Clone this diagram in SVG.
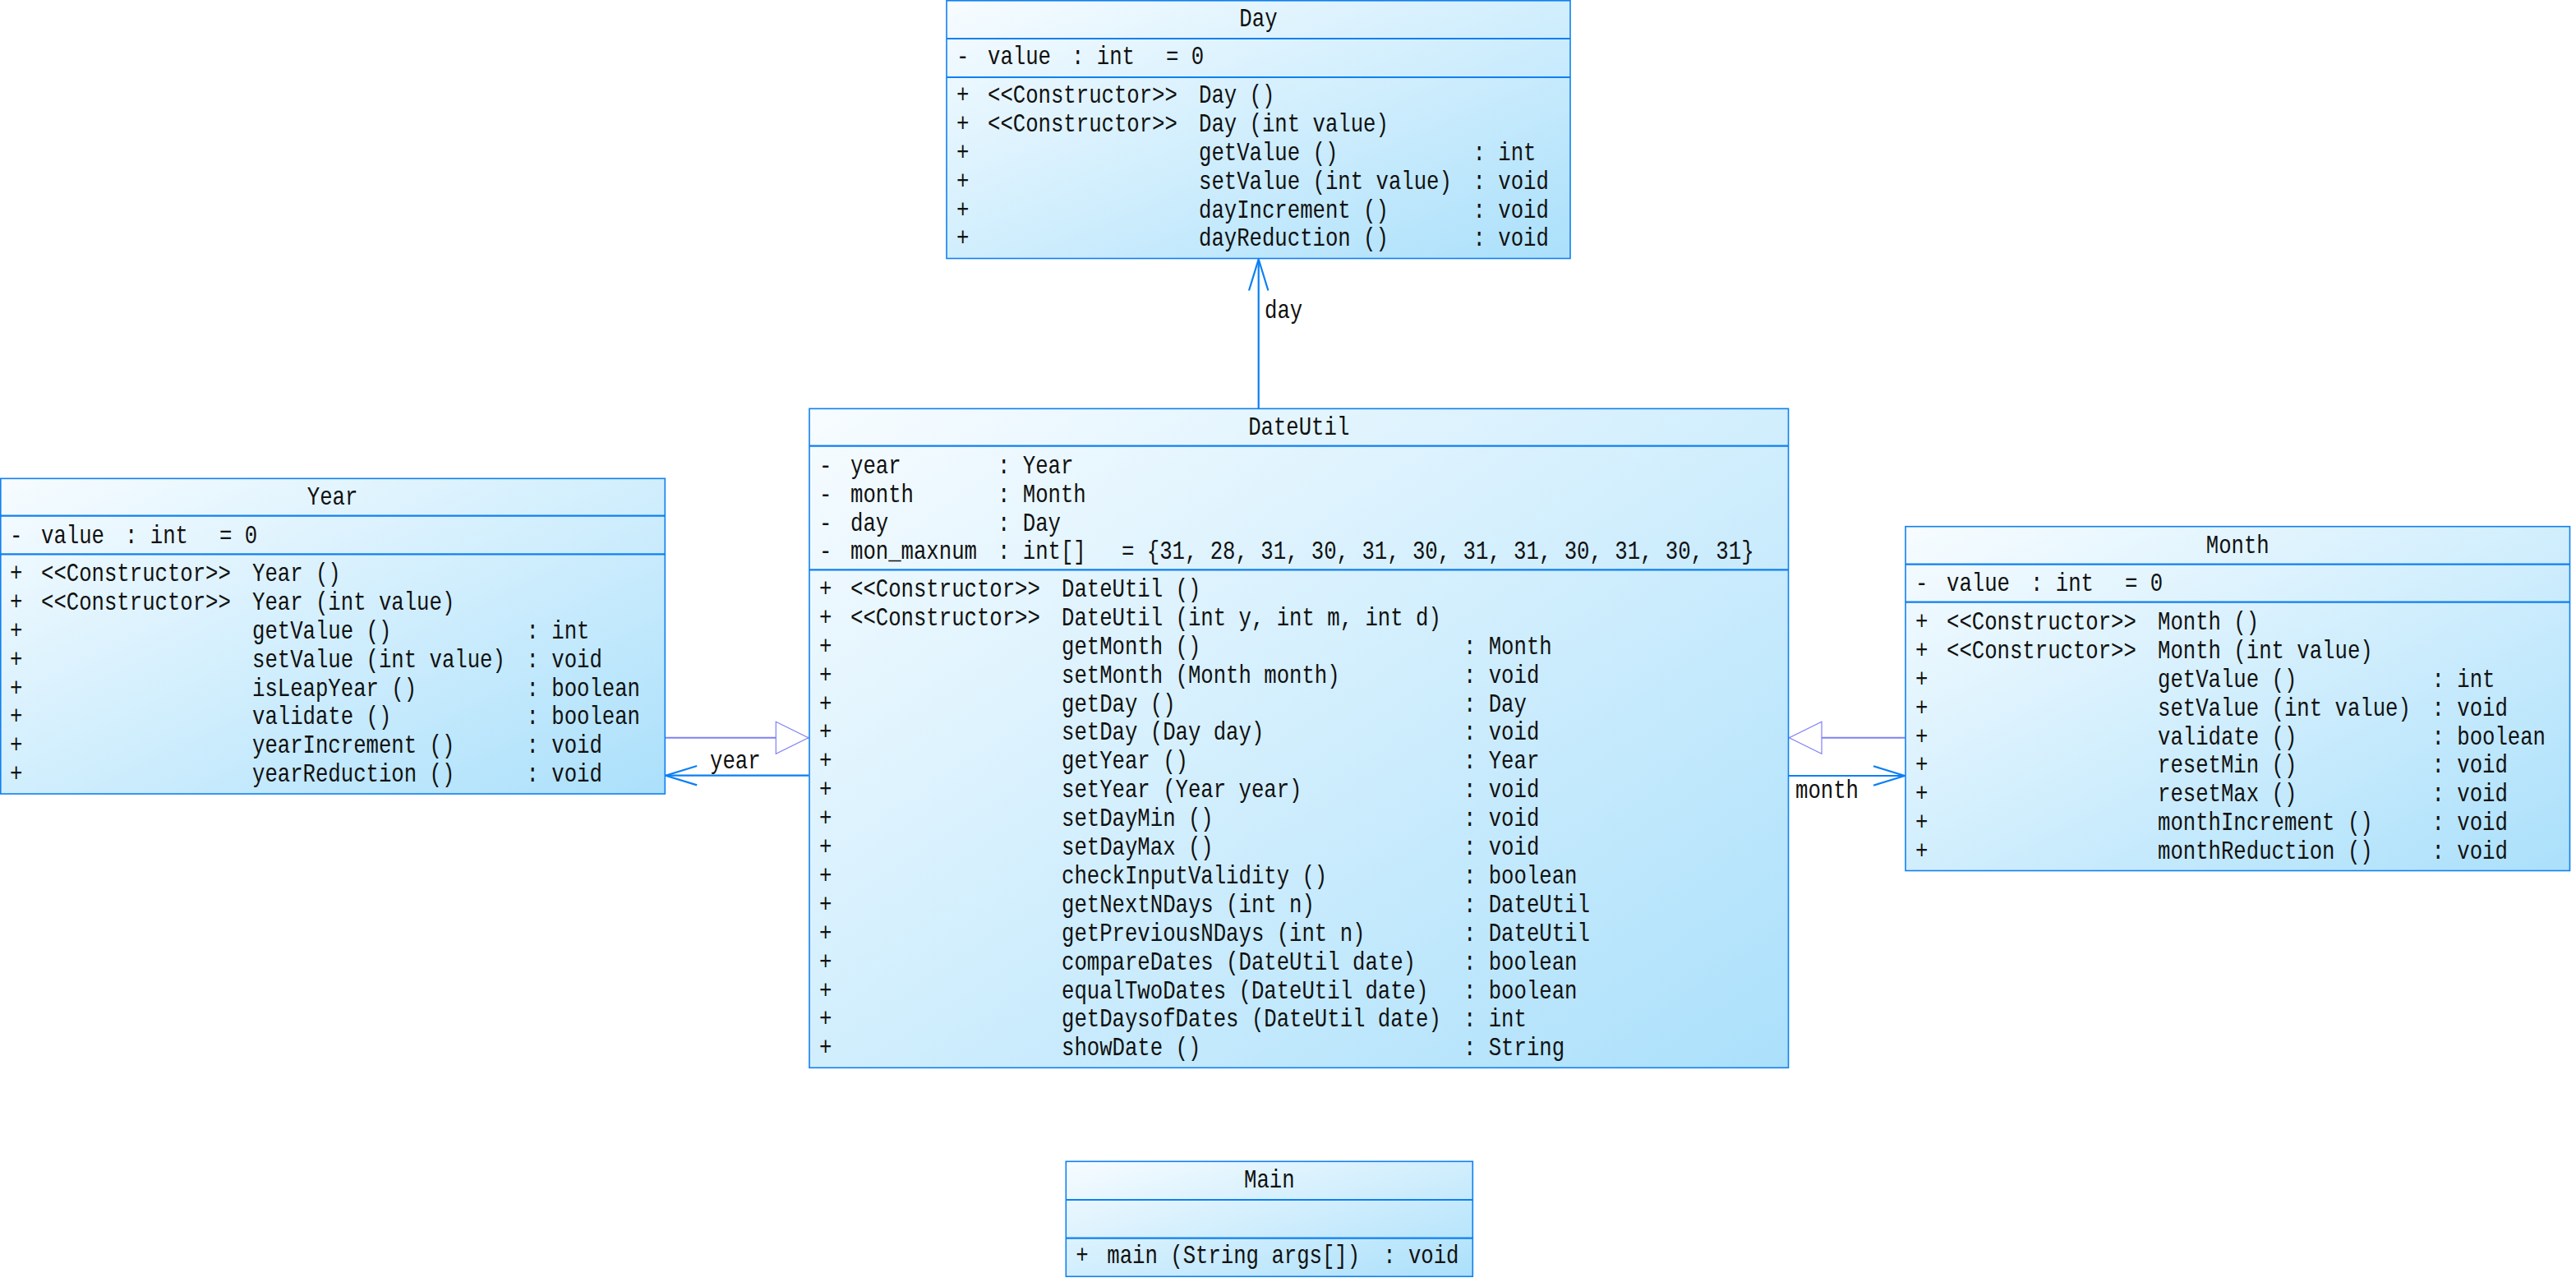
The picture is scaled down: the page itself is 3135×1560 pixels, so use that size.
<svg xmlns="http://www.w3.org/2000/svg" width="3135" height="1560" viewBox="0 0 3135 1560">
<defs>
<linearGradient id="fillg" x1="0" y1="0" x2="1" y2="1">
<stop offset="0" stop-color="#f7fcff"/>
<stop offset="1" stop-color="#abe0fb"/>
</linearGradient>
<marker id="open" viewBox="-42 -15 46 30" refX="0" refY="0" markerWidth="46" markerHeight="30" markerUnits="userSpaceOnUse" orient="auto">
<path d="M-38,-11.7 L0,0 L-38,11.7" fill="none" stroke="#0a7ff5" stroke-width="2.2"/>
</marker>
<marker id="tri" viewBox="-42 -22 46 44" refX="0" refY="0" markerWidth="46" markerHeight="44" markerUnits="userSpaceOnUse" orient="auto">
<path d="M-39.5,-19.5 L0,0 L-39.5,19.5 Z" fill="#ffffff" stroke="#8080f5" stroke-width="1.2"/>
</marker>
</defs>
<style>
.cls{fill:url(#fillg);stroke:#0f80f2;stroke-width:1.6}
.sep{stroke:#0f80f2;stroke-width:2.2}
.t text{font-family:"Liberation Mono","DejaVu Sans Mono",monospace;font-size:31px;fill:#111}
.t .title{text-anchor:middle}
.assoc{stroke:#0a7ff5;stroke-width:2.2;fill:none;marker-end:url(#open)}
.gen{stroke:#8080f5;stroke-width:2;fill:none;marker-end:url(#tri)}
.lbl{font-family:"Liberation Mono","DejaVu Sans Mono",monospace;font-size:31px;fill:#111}
</style>
<rect width="3135" height="1560" fill="#ffffff"/>

<g id="connectors">
<line class="assoc" x1="1531.7" y1="497.3" x2="1531.7" y2="315.5"/>
<line class="gen" x1="809.3" y1="897.7" x2="983.8" y2="897.7"/>
<line class="assoc" x1="984.3" y1="943.7" x2="810.2" y2="943.7"/>
<line class="gen" x1="2318.5" y1="897.7" x2="2177.5" y2="897.7"/>
<line class="assoc" x1="2177" y1="944" x2="2318" y2="944"/>
<text class="lbl" transform="translate(1539 387) scale(0.828 1)">day</text>
<text class="lbl" transform="translate(864 935) scale(0.828 1)">year</text>
<text class="lbl" transform="translate(2185 970.7) scale(0.828 1)">month</text>
</g>

<g id="Day">
<rect class="cls" x="1152" y="0.8" width="759" height="313.7"/>
<line class="sep" x1="1152" y1="47" x2="1911" y2="47"/>
<line class="sep" x1="1152" y1="94" x2="1911" y2="94"/>
<g class="t" transform="translate(1152 0) scale(0.828 1)">
<text class="title" x="458.3" y="32.5">Day</text>
<text y="78.5"><tspan x="14.5">-</tspan><tspan x="60.4">value</tspan><tspan x="183.6">: int</tspan><tspan x="322.5">= 0</tspan></text>
<text y="125"><tspan x="14.5">+</tspan><tspan x="60.4">&lt;&lt;Constructor&gt;&gt;</tspan><tspan x="370.8">Day ()</tspan></text>
<text y="159.9"><tspan x="14.5">+</tspan><tspan x="60.4">&lt;&lt;Constructor&gt;&gt;</tspan><tspan x="370.8">Day (int value)</tspan></text>
<text y="194.8"><tspan x="14.5">+</tspan><tspan x="370.8">getValue ()</tspan><tspan x="773.5">: int</tspan></text>
<text y="229.7"><tspan x="14.5">+</tspan><tspan x="370.8">setValue (int value)</tspan><tspan x="773.5">: void</tspan></text>
<text y="264.6"><tspan x="14.5">+</tspan><tspan x="370.8">dayIncrement ()</tspan><tspan x="773.5">: void</tspan></text>
<text y="299.5"><tspan x="14.5">+</tspan><tspan x="370.8">dayReduction ()</tspan><tspan x="773.5">: void</tspan></text>
</g>
</g>

<g id="Year">
<rect class="cls" x="0.8" y="582.3" width="808.5" height="383.7"/>
<line class="sep" x1="0.8" y1="627.7" x2="809.3" y2="627.7"/>
<line class="sep" x1="0.8" y1="674.3" x2="809.3" y2="674.3"/>
<g class="t" transform="translate(0 0) scale(0.828 1)">
<text class="title" x="488.6" y="614">Year</text>
<text y="661"><tspan x="14.5">-</tspan><tspan x="60.4">value</tspan><tspan x="183.6">: int</tspan><tspan x="322.5">= 0</tspan></text>
<text y="707"><tspan x="14.5">+</tspan><tspan x="60.4">&lt;&lt;Constructor&gt;&gt;</tspan><tspan x="370.8">Year ()</tspan></text>
<text y="741.9"><tspan x="14.5">+</tspan><tspan x="60.4">&lt;&lt;Constructor&gt;&gt;</tspan><tspan x="370.8">Year (int value)</tspan></text>
<text y="776.8"><tspan x="14.5">+</tspan><tspan x="370.8">getValue ()</tspan><tspan x="773.5">: int</tspan></text>
<text y="811.7"><tspan x="14.5">+</tspan><tspan x="370.8">setValue (int value)</tspan><tspan x="773.5">: void</tspan></text>
<text y="846.6"><tspan x="14.5">+</tspan><tspan x="370.8">isLeapYear ()</tspan><tspan x="773.5">: boolean</tspan></text>
<text y="881.5"><tspan x="14.5">+</tspan><tspan x="370.8">validate ()</tspan><tspan x="773.5">: boolean</tspan></text>
<text y="916.4"><tspan x="14.5">+</tspan><tspan x="370.8">yearIncrement ()</tspan><tspan x="773.5">: void</tspan></text>
<text y="951.3"><tspan x="14.5">+</tspan><tspan x="370.8">yearReduction ()</tspan><tspan x="773.5">: void</tspan></text>
</g>
</g>

<g id="Month">
<rect class="cls" x="2319" y="640.7" width="808.5" height="418.8"/>
<line class="sep" x1="2319" y1="686.7" x2="3127.5" y2="686.7"/>
<line class="sep" x1="2319" y1="732.7" x2="3127.5" y2="732.7"/>
<g class="t" transform="translate(2319 0) scale(0.828 1)">
<text class="title" x="488.2" y="672.7">Month</text>
<text y="719"><tspan x="14.5">-</tspan><tspan x="60.4">value</tspan><tspan x="183.6">: int</tspan><tspan x="322.5">= 0</tspan></text>
<text y="766"><tspan x="14.5">+</tspan><tspan x="60.4">&lt;&lt;Constructor&gt;&gt;</tspan><tspan x="370.8">Month ()</tspan></text>
<text y="800.9"><tspan x="14.5">+</tspan><tspan x="60.4">&lt;&lt;Constructor&gt;&gt;</tspan><tspan x="370.8">Month (int value)</tspan></text>
<text y="835.8"><tspan x="14.5">+</tspan><tspan x="370.8">getValue ()</tspan><tspan x="773.5">: int</tspan></text>
<text y="870.7"><tspan x="14.5">+</tspan><tspan x="370.8">setValue (int value)</tspan><tspan x="773.5">: void</tspan></text>
<text y="905.6"><tspan x="14.5">+</tspan><tspan x="370.8">validate ()</tspan><tspan x="773.5">: boolean</tspan></text>
<text y="940.5"><tspan x="14.5">+</tspan><tspan x="370.8">resetMin ()</tspan><tspan x="773.5">: void</tspan></text>
<text y="975.4"><tspan x="14.5">+</tspan><tspan x="370.8">resetMax ()</tspan><tspan x="773.5">: void</tspan></text>
<text y="1010.3"><tspan x="14.5">+</tspan><tspan x="370.8">monthIncrement ()</tspan><tspan x="773.5">: void</tspan></text>
<text y="1045.2"><tspan x="14.5">+</tspan><tspan x="370.8">monthReduction ()</tspan><tspan x="773.5">: void</tspan></text>
</g>
</g>

<g id="DateUtil">
<rect class="cls" x="985" y="497.3" width="1191.5" height="802"/>
<line class="sep" x1="985" y1="542.7" x2="2176.5" y2="542.7"/>
<line class="sep" x1="985" y1="693.3" x2="2176.5" y2="693.3"/>
<g class="t" transform="translate(985 0) scale(0.828 1)">
<text class="title" x="719.5" y="529.3">DateUtil</text>
<text y="576"><tspan x="14.5">-</tspan><tspan x="60.4">year</tspan><tspan x="276.6">: Year</tspan></text>
<text y="610.8"><tspan x="14.5">-</tspan><tspan x="60.4">month</tspan><tspan x="276.6">: Month</tspan></text>
<text y="645.6"><tspan x="14.5">-</tspan><tspan x="60.4">day</tspan><tspan x="276.6">: Day</tspan></text>
<text y="680.4"><tspan x="14.5">-</tspan><tspan x="60.4">mon_maxnum</tspan><tspan x="276.6">: int[]</tspan><tspan x="458.9">= {31, 28, 31, 30, 31, 30, 31, 31, 30, 31, 30, 31}</tspan></text>
<text y="726"><tspan x="14.5">+</tspan><tspan x="60.4">&lt;&lt;Constructor&gt;&gt;</tspan><tspan x="370.8">DateUtil ()</tspan></text>
<text y="760.9"><tspan x="14.5">+</tspan><tspan x="60.4">&lt;&lt;Constructor&gt;&gt;</tspan><tspan x="370.8">DateUtil (int y, int m, int d)</tspan></text>
<text y="795.8"><tspan x="14.5">+</tspan><tspan x="370.8">getMonth ()</tspan><tspan x="961.3">: Month</tspan></text>
<text y="830.7"><tspan x="14.5">+</tspan><tspan x="370.8">setMonth (Month month)</tspan><tspan x="961.3">: void</tspan></text>
<text y="865.6"><tspan x="14.5">+</tspan><tspan x="370.8">getDay ()</tspan><tspan x="961.3">: Day</tspan></text>
<text y="900.5"><tspan x="14.5">+</tspan><tspan x="370.8">setDay (Day day)</tspan><tspan x="961.3">: void</tspan></text>
<text y="935.4"><tspan x="14.5">+</tspan><tspan x="370.8">getYear ()</tspan><tspan x="961.3">: Year</tspan></text>
<text y="970.3"><tspan x="14.5">+</tspan><tspan x="370.8">setYear (Year year)</tspan><tspan x="961.3">: void</tspan></text>
<text y="1005.2"><tspan x="14.5">+</tspan><tspan x="370.8">setDayMin ()</tspan><tspan x="961.3">: void</tspan></text>
<text y="1040.1"><tspan x="14.5">+</tspan><tspan x="370.8">setDayMax ()</tspan><tspan x="961.3">: void</tspan></text>
<text y="1075"><tspan x="14.5">+</tspan><tspan x="370.8">checkInputValidity ()</tspan><tspan x="961.3">: boolean</tspan></text>
<text y="1109.9"><tspan x="14.5">+</tspan><tspan x="370.8">getNextNDays (int n)</tspan><tspan x="961.3">: DateUtil</tspan></text>
<text y="1144.8"><tspan x="14.5">+</tspan><tspan x="370.8">getPreviousNDays (int n)</tspan><tspan x="961.3">: DateUtil</tspan></text>
<text y="1179.7"><tspan x="14.5">+</tspan><tspan x="370.8">compareDates (DateUtil date)</tspan><tspan x="961.3">: boolean</tspan></text>
<text y="1214.6"><tspan x="14.5">+</tspan><tspan x="370.8">equalTwoDates (DateUtil date)</tspan><tspan x="961.3">: boolean</tspan></text>
<text y="1249.5"><tspan x="14.5">+</tspan><tspan x="370.8">getDaysofDates (DateUtil date)</tspan><tspan x="961.3">: int</tspan></text>
<text y="1284.4"><tspan x="14.5">+</tspan><tspan x="370.8">showDate ()</tspan><tspan x="961.3">: String</tspan></text>
</g>
</g>

<g id="Main">
<rect class="cls" x="1297.3" y="1413.3" width="495" height="140"/>
<line class="sep" x1="1297.3" y1="1460" x2="1792.3" y2="1460"/>
<line class="sep" x1="1297.3" y1="1506.7" x2="1792.3" y2="1506.7"/>
<g class="t" transform="translate(1297.3 0) scale(0.828 1)">
<text class="title" x="298.9" y="1445.5">Main</text>
<text y="1537.3"><tspan x="14.5">+</tspan><tspan x="60.4">main (String args[])</tspan><tspan x="466">: void</tspan></text>
</g>
</g>
</svg>
